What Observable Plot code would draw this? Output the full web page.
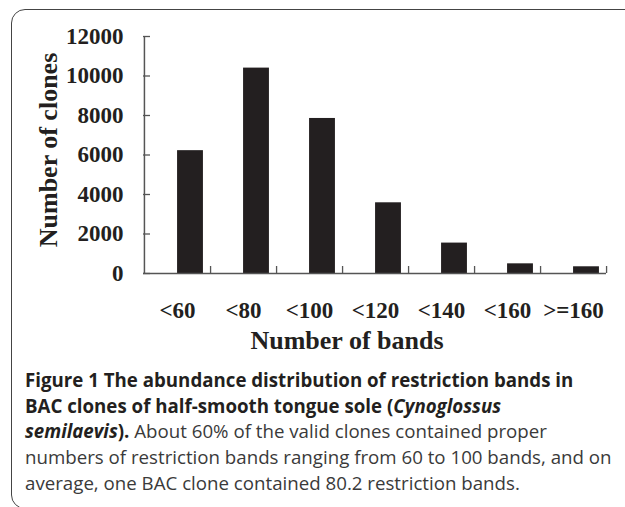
<!DOCTYPE html>
<html><head><meta charset="utf-8">
<script src="https://cdn.jsdelivr.net/npm/d3@7"></script>
<script src="https://cdn.jsdelivr.net/npm/@observablehq/plot@0.6"></script>
<style>
html,body{margin:0;padding:0;background:#fff;width:625px;height:507px;overflow:hidden;}
#frame{position:absolute;left:11px;top:9px;width:660px;height:500px;border:1.5px solid #444;border-radius:14px;box-sizing:border-box;}
#chart{position:absolute;left:0;top:0;}
#caption{position:absolute;left:25px;top:367px;font-family:"Open Sans";font-size:18.7px;line-height:25.7px;color:#3a3a3a;white-space:nowrap;}
#caption b{color:#231f20;font-weight:700}
</style></head><body>
<div id="frame"></div>
<div id="chart"></div>
<div id="caption"><b>Figure 1 The abundance distribution of restriction bands in<br>BAC clones of half-smooth tongue sole (<i>Cynoglossus<br>semilaevis</i>).</b> About 60% of the valid clones contained proper<br>numbers of restriction bands ranging from 60 to 100 bands, and on<br>average, one BAC clone contained 80.2 restriction bands.</div>
<script>
const categories = ["<60", "<80", "<100", "<120", "<140", "<160", ">=160"];
const clones = [6220, 10400, 7850, 3580, 1540, 490, 340];
const yTicks = [0, 2000, 4000, 6000, 8000, 10000, 12000];
const xTitle = "Number of bands";
const yTitle = "Number of clones";

const data = categories.map((c, i) => ({band: c, clones: clones[i]}));

const W = 625, H = 360, mL = 143, mR = 19, mT = 36, mB = 87;
const pw = W - mL - mR, ph = H - mT - mB;
const bw = pw / categories.length;
const ink = "#231f20", axisColor = "#555";
const font = "Liberation Serif";

const plot = Plot.plot({
  width: W, height: H,
  marginLeft: mL, marginRight: mR, marginTop: mT, marginBottom: mB,
  style: {fontFamily: font, background: "transparent", overflow: "visible", color: ink},
  x: {domain: categories, padding: 0, label: null},
  y: {domain: [0, 12000], label: null},
  marks: [
    Plot.barY(data, {x: "band", y: "clones", fill: ink, insetLeft: bw / 2, insetRight: bw / 2 - 26}),
    Plot.ruleY([0], {stroke: axisColor, strokeWidth: 1.5}),
    Plot.ruleX([categories[0]], {y1: 0, y2: 12000, dx: -bw / 2, stroke: axisColor, strokeWidth: 1.5}),
    Plot.tickY(yTicks, {y: d => d, stroke: axisColor, strokeWidth: 1.3, insetRight: pw - 7}),
    Plot.tickX(categories, {x: d => d, dx: bw / 2, stroke: axisColor, strokeWidth: 1.3, insetTop: ph - 7}),
    Plot.axisY({ticks: yTicks, tickSize: 0, tickPadding: 20, fontSize: 23, fontWeight: "bold", tickFormat: d3.format("d"), label: null}),
    Plot.axisX({tickSize: 0, tickPadding: 28, fontSize: 23, fontWeight: "bold", label: null}),
    Plot.text([yTitle], {text: d => d, frameAnchor: "left", textAnchor: "middle", lineAnchor: "middle", rotate: -90, dx: -94.5, dy: -5, fontSize: 26, fontWeight: "bold", fill: ink}),
    Plot.text([xTitle], {text: d => d, frameAnchor: "bottom", textAnchor: "middle", lineAnchor: "middle", dx: -28, dy: 66.7, fontSize: 26, fontWeight: "bold", fill: ink})
  ]
});
document.getElementById("chart").appendChild(plot);
</script>
</body></html>
